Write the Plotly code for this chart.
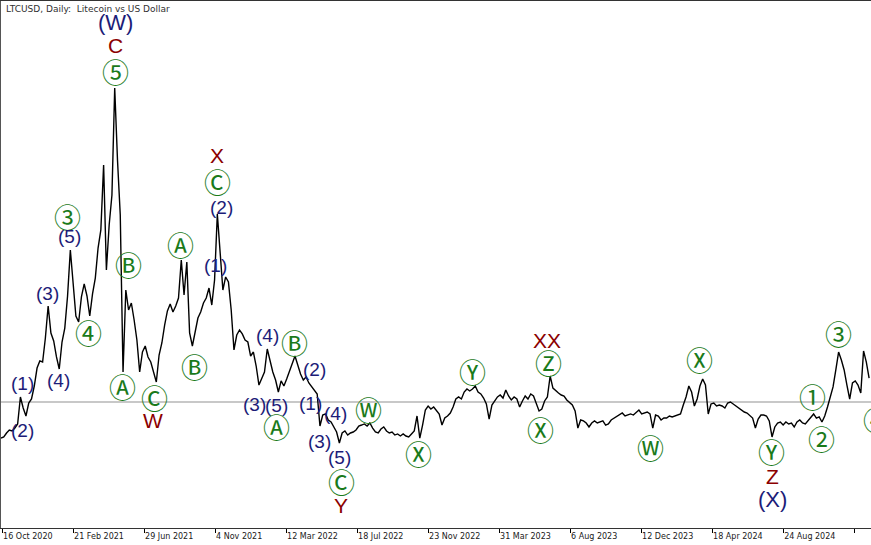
import pandas as pd
import plotly.graph_objects as go

NAVY = "#1c1c78"
DARK_RED = "#8b0000"
GREEN = "#1a7a1a"
LEVEL_GRAY = "#c8c8c8"

TITLE = "LTCUSD, Daily:  Litecoin vs US Dollar"
START = "2020-10-14"
STEP = "5D"

# closing-ish prices every 5 days (USD)
PRICES = [
    49.4, 50.5, 54.6, 57.7, 56.7, 59.7, 63.9, 91.7, 80.3, 72.1,
    85.5, 89.6, 103.0, 121.5, 128.8, 127.7, 152.4, 185.4, 157.6, 149.4,
    132.9, 120.5, 148.3, 162.7, 195.7, 243.1, 209.1, 175.1, 168.9, 194.7,
    208.1, 195.7, 175.1, 197.8, 214.2, 245.1, 263.7, 330.6, 222.5, 268.8,
    299.7, 409.9, 335.8, 279.1, 117.4, 201.9, 181.3, 188.5, 171.0, 150.4,
    117.4, 138.0, 144.2, 132.9, 127.7, 117.4, 107.1, 134.9, 147.3, 165.8,
    180.3, 187.5, 179.2, 185.4, 193.6, 232.8, 196.7, 230.7, 157.6, 144.2,
    160.7, 173.0, 179.2, 188.5, 193.6, 203.9, 186.4, 212.2, 280.2, 243.1,
    201.9, 215.3, 210.1, 181.3, 140.1, 155.5, 160.7, 156.6, 150.4, 148.3,
    133.9, 138.0, 123.6, 104.0, 111.2, 117.4, 141.1, 127.7, 117.4, 109.2,
    96.8, 108.2, 103.0, 110.2, 118.5, 127.7, 133.9, 124.6, 115.4, 109.2,
    112.3, 106.1, 102.0, 98.9, 94.8, 61.8, 73.1, 74.2, 68.0, 65.9,
    60.8, 55.6, 44.3, 54.6, 56.7, 52.5, 54.6, 55.6, 57.7, 61.8,
    62.8, 63.9, 61.8, 64.9, 59.7, 55.6, 54.6, 58.7, 60.8, 56.7,
    54.6, 55.6, 52.5, 53.6, 51.5, 53.6, 51.5, 50.5, 53.6, 56.7,
    72.1, 49.4, 62.8, 78.3, 82.4, 79.3, 81.4, 77.3, 74.2, 62.8,
    70.0, 72.1, 75.2, 81.4, 89.6, 91.7, 89.6, 96.8, 99.9, 97.9,
    99.9, 103.0, 96.8, 94.8, 90.6, 84.5, 69.0, 83.4, 87.6, 91.7,
    93.7, 90.6, 98.9, 92.7, 88.6, 91.7, 89.6, 81.4, 87.6, 92.7,
    89.6, 94.8, 92.7, 84.5, 77.3, 79.3, 87.6, 91.7, 113.3, 100.9,
    97.9, 95.8, 93.7, 92.7, 88.6, 85.5, 83.4, 77.3, 59.7, 68.0,
    67.0, 64.9, 60.8, 64.9, 67.0, 64.9, 65.9, 67.0, 62.8, 63.9,
    68.0, 70.0, 71.1, 73.1, 75.2, 72.1, 73.1, 74.2, 73.1, 76.2,
    78.3, 74.2, 75.2, 76.2, 74.2, 59.7, 73.1, 72.1, 68.0, 70.0,
    70.0, 72.1, 71.1, 72.1, 73.1, 74.2, 83.4, 91.7, 103.0, 96.8,
    82.4, 89.6, 103.0, 110.2, 104.0, 74.2, 84.5, 85.5, 82.4, 83.4,
    82.4, 80.3, 85.5, 86.5, 84.5, 82.4, 80.3, 78.3, 76.2, 75.2,
    72.1, 70.0, 59.7, 69.0, 73.1, 73.1, 72.1, 67.0, 50.5, 60.8,
    64.9, 65.9, 62.8, 65.9, 63.9, 64.9, 60.8, 65.9, 68.0, 64.9,
    63.9, 67.0, 70.0, 74.2, 70.0, 71.1, 65.9, 72.1, 81.4, 90.6,
    102.0, 119.5, 138.0, 129.8, 119.5, 104.0, 89.6, 106.1, 108.2, 104.0,
    95.8, 139.1, 127.7, 111.2,
]

LEVEL = 86.5  # horizontal reference level

TICK_DATES = [
    "2020-10-16", "2021-02-21", "2021-06-29", "2021-11-04", "2022-03-12",
    "2022-07-18", "2022-11-23", "2023-03-31", "2023-08-06", "2023-12-12",
    "2024-04-18", "2024-08-24", "2024-12-30",
]
TICK_TEXT = [
    "16 Oct 2020", "21 Feb 2021", "29 Jun 2021", "4 Nov 2021", "12 Mar 2022",
    "18 Jul 2022", "23 Nov 2022", "31 Mar 2023", "6 Aug 2023", "12 Dec 2023",
    "18 Apr 2024", "24 Aug 2024", "30 Dec 2024",
]

# wave labels: text, index of the bar they mark, wave degree
WAVE_TEXT = [
    "(W)", "C", "⑤", "X", "Ⓒ", "(2)", "Ⓐ", "(1)", "Ⓑ", "③",
    "(5)", "(3)", "④", "(4)", "(1)", "(2)", "Ⓐ", "Ⓒ", "W", "Ⓑ",
    "(4)", "Ⓑ", "(3)", "(5)", "Ⓐ", "(2)", "(1)", "(4)", "(3)", "(5)",
    "Ⓒ", "Y", "Ⓦ", "Ⓧ", "Ⓨ", "XX", "Ⓩ", "Ⓧ", "Ⓦ", "Ⓧ",
    "Ⓨ", "Z", "(X)", "①", "②", "③", "④",
]
WAVE_BAR = [
    41, 41, 41, 78, 78, 78, 65, 77, 45, 25,
    25, 17, 32, 21, 7, 9, 44, 56, 56, 69,
    96, 106, 93, 100, 100, 113, 112, 121, 115, 122,
    122, 122, 133, 151, 171, 198, 198, 194, 235, 253,
    278, 278, 278, 293, 296, 302, 310,
]
WAVE_DEGREE = [
    "primary", "intermediate", "minor", "intermediate", "minor", "minute", "minor", "minute", "minor", "minor",
    "minute", "minute", "minor", "minute", "minute", "minute", "minor", "minor", "intermediate", "minor",
    "minute", "minor", "minute", "minute", "minor", "minute", "minute", "minute", "minute", "minute",
    "minor", "intermediate", "minor", "minor", "minor", "intermediate", "minor", "minor", "minor", "minor",
    "minor", "intermediate", "primary", "minor", "minor", "minor", "minor",
]
# pixel offset of each label from its bar (dx right, dy up)
WAVE_OFFSET = [
    (1, 66), (1, 43), (1, 17), (0, 58), (0, 32), (4, 6), (-1, 15), (1, 14), (3, 25), (-3, 33),
    (-1, 13), (-1, 13), (-1, -16), (-1, -11), (2, 13), (-3, -14), (-1, -14), (-2, -15), (-3, -38), (2, -20),
    (0, 14), (0, 14), (-4, -19), (-2, -13), (-2, -34), (0, 20), (-1, -17), (-1, 19), (0, -15), (0, -15),
    (2, -39), (2, -63), (-1, 13), (-1, -15), (-3, 15), (-3, 36), (-2, 14), (1, -19), (-2, -19), (-3, 20),
    (-1, -15), (0, -40), (0, -63), (-1, 17), (0, -16), (0, 19), (16, -27),
]

DEGREE_FONT = {
    "primary": dict(family="Liberation Sans", size=22, color=NAVY),
    "intermediate": dict(family="Liberation Sans", size=21, color=DARK_RED),
    "minor": dict(family="Noto Sans CJK JP", size=27, color=GREEN),
    "minute": dict(family="Liberation Sans", size=19, color=NAVY),
}

dates = pd.date_range(START, periods=len(PRICES), freq=STEP)

fig = go.Figure()
fig.add_trace(go.Scatter(
    x=dates, y=PRICES, mode="lines",
    line=dict(color="black", width=1.4), hoverinfo="x+y", showlegend=False,
))

fig.add_hline(y=LEVEL, line=dict(color=LEVEL_GRAY, width=2), layer="below")

for text, bar, degree, (dx, dy) in zip(WAVE_TEXT, WAVE_BAR, WAVE_DEGREE, WAVE_OFFSET):
    fig.add_annotation(
        x=dates[bar], y=PRICES[bar], text=text, showarrow=False,
        xshift=dx, yshift=dy, xanchor="center", yanchor="middle",
        font=DEGREE_FONT[degree],
    )

fig.add_annotation(
    xref="paper", yref="paper", x=0.003, y=0.998, xanchor="left", yanchor="top",
    text=TITLE, showarrow=False, font=dict(family="DejaVu Sans", size=9, color="#303030"),
)

fig.update_layout(
    width=871, height=545,
    margin=dict(l=1, r=0, t=1, b=17),
    plot_bgcolor="white", paper_bgcolor="white",
    showlegend=False,
)
fig.update_xaxes(
    range=["2020-10-14", "2025-01-29 10:00"],
    tickvals=TICK_DATES, ticktext=TICK_TEXT,
    ticklabelposition="outside right",
    ticks="outside", ticklen=4, tickcolor="black",
    tickfont=dict(family="DejaVu Sans", size=8, color="#202020"),
    showgrid=False, zeroline=False,
    showline=True, linecolor="#333333", linewidth=1, mirror=True,
)
fig.update_yaxes(
    range=[-43.26, 499.55],
    showticklabels=False, ticks="", showgrid=False, zeroline=False,
    showline=True, linecolor="#555555", linewidth=1,
)

# the page body has a default margin; drop it so the chart sits at the window corner
fig.write_html(
    "out.html",
    config={"displayModeBar": False},
    post_script="document.body.style.margin='0';document.body.style.overflow='hidden';",
)
